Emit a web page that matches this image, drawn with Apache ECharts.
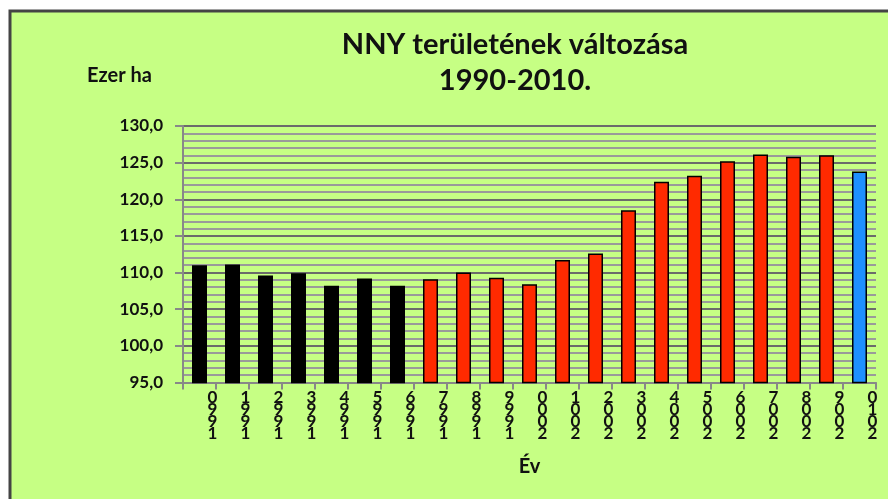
<!DOCTYPE html>
<html>
<head>
<meta charset="utf-8">
<script src="https://cdn.jsdelivr.net/npm/echarts@6/dist/echarts.min.js"></script>
<style>
html,body{margin:0;padding:0;background:#fff;}
#chartBar{width:888px;height:499px;}
</style>
</head>
<body>
<div id="chartBar"></div>
<script>
// évek és értékek (ezer ha)
var years = ['1990','1991','1992','1993','1994','1995','1996','1997','1998','1999','2000',
             '2001','2002','2003','2004','2005','2006','2007','2008','2009','2010'];
var values = [111.0, 111.1, 109.6, 109.9, 108.2, 109.2, 108.2, 109.1, 110.0, 109.3, 108.4,
              111.7, 112.6, 118.5, 122.4, 123.2, 125.2, 126.1, 125.8, 126.0, 123.8];
var yTicks = [95, 100, 105, 110, 115, 120, 125, 130];

function barColor(year){
    var y = parseInt(year, 10);
    if (y <= 1996) return '#000000';
    if (y >= 2010) return '#1E90FF';
    return '#FF2A00';
}

var barData = values.map(function(v, i){
    return {
        value: v,
        itemStyle: {color: barColor(years[i]), borderColor: '#000', borderWidth: 1.5}
    };
});

var myChart = echarts.init(document.getElementById('chartBar'));
var option = {
    backgroundColor: '#ffffff',
    textStyle: {fontFamily: 'Lato'},
    graphic: [{
        type: 'rect',
        z: -10,
        silent: true,
        shape: {x: 10, y: 11, width: 900, height: 520},
        style: {fill: '#C6FF84', stroke: '#444', lineWidth: 3}
    }],
    title: [{
        text: 'NNY területének változása\n1990-2010.',
        left: 510,
        top: 22,
        textAlign: 'center',
        textStyle: {fontFamily: 'Lato', fontSize: 29, fontWeight: 'bold', color: '#111', lineHeight: 36, align: 'center'}
    }, {
        text: 'Ezer ha',
        left: 82,
        top: 61,
        textStyle: {fontFamily: 'Lato', fontSize: 20, fontWeight: 'bold', color: '#111'}
    }],
    grid: {left: 183, right: 12, top: 126, bottom: 116.5},
    xAxis: {
        type: 'category',
        data: years,
        name: 'Év',
        nameLocation: 'middle',
        nameGap: 74,
        nameTextStyle: {fontFamily: 'Lato', fontSize: 20, fontWeight: 'bold', color: '#111'},
        axisLine: {lineStyle: {color: '#888', width: 2}},
        axisTick: {show: true, length: 7, lineStyle: {color: '#888', width: 2}},
        axisLabel: {
            interval: 0,
            margin: 9,
            color: '#111',
            fontFamily: 'Lato',
            fontWeight: 'bold',
            fontSize: 17,
            lineHeight: 12,
            padding: [0, 0, 0, 26],
            formatter: function(v){ return v.split('').reverse().join('\n'); }
        }
    },
    yAxis: {
        type: 'value',
        min: yTicks[0],
        max: yTicks[yTicks.length - 1],
        interval: 5,
        axisLine: {show: true, lineStyle: {color: '#888', width: 2}},
        axisTick: {show: true, length: 8, lineStyle: {color: '#888', width: 2}},
        minorTick: {show: false, splitNumber: 5},
        minorSplitLine: {show: true, lineStyle: {color: '#9a9a9a', width: 2}},
        splitLine: {show: true, lineStyle: {color: '#6b6b6b', width: 2}},
        axisLabel: {
            margin: 20,
            color: '#111',
            fontFamily: 'Lato',
            fontWeight: 'bold',
            fontSize: 17,
            formatter: function(v){ return v.toFixed(1).replace('.', ','); }
        }
    },
    series: [{
        type: 'bar',
        barWidth: 15,
        data: barData
    }]
};
myChart.setOption(option);
</script>
</body>
</html>
